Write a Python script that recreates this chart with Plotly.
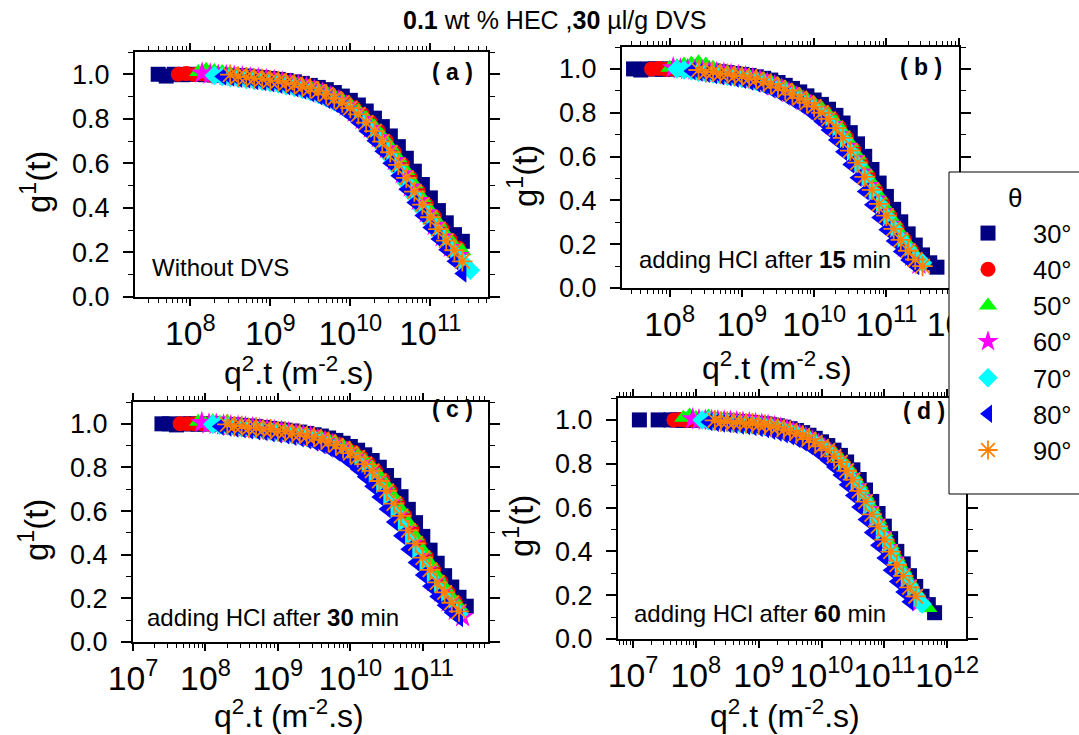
import plotly.graph_objects as go

# ---------------- data ----------------
# q^2.t grids (m^-2.s), 0.1-decade steps; the second grid is offset by half a step
q2t_grid = [
    1.00e7, 1.26e7, 1.58e7, 2.00e7, 2.51e7, 3.16e7, 3.98e7, 5.01e7, 6.31e7, 7.94e7,
    1.00e8, 1.26e8, 1.58e8, 2.00e8, 2.51e8, 3.16e8, 3.98e8, 5.01e8, 6.31e8, 7.94e8,
    1.00e9, 1.26e9, 1.58e9, 2.00e9, 2.51e9, 3.16e9, 3.98e9, 5.01e9, 6.31e9, 7.94e9,
    1.00e10, 1.26e10, 1.58e10, 2.00e10, 2.51e10, 3.16e10, 3.98e10, 5.01e10, 6.31e10, 7.94e10,
    1.00e11, 1.26e11, 1.58e11, 2.00e11, 2.51e11, 3.16e11, 3.98e11, 5.01e11, 6.31e11, 7.94e11,
    1.00e12,
]
q2t_grid_half = [
    8.91e6, 1.12e7, 1.41e7, 1.78e7, 2.24e7, 2.82e7, 3.55e7, 4.47e7, 5.62e7, 7.08e7,
    8.91e7, 1.12e8, 1.41e8, 1.78e8, 2.24e8, 2.82e8, 3.55e8, 4.47e8, 5.62e8, 7.08e8,
    8.91e8, 1.12e9, 1.41e9, 1.78e9, 2.24e9, 2.82e9, 3.55e9, 4.47e9, 5.62e9, 7.08e9,
    8.91e9, 1.12e10, 1.41e10, 1.78e10, 2.24e10, 2.82e10, 3.55e10, 4.47e10, 5.62e10, 7.08e10,
    8.91e10, 1.12e11, 1.41e11, 1.78e11, 2.24e11, 2.82e11, 3.55e11, 4.47e11, 5.62e11, 7.08e11,
    8.91e11,
]

angles = ["30°", "40°", "50°", "60°", "70°", "80°", "90°"]
colors = ["#000080", "#FF0000", "#00FF00", "#FF00FF", "#00FFFF", "#0000FF", "#FF8000"]
symbols = ["square", "circle", "triangle-up", "star", "diamond", "triangle-left", "asterisk-open"]
sizes = [15, 15, 16, 17, 15, 16, 17]
use_half_grid = [False, True, False, True, False, False, False]

# first grid index of each angle's data, per panel
start_a = [6, 9, 11, 12, 13, 14, 15]
start_b = [5, 8, 10, 11, 11, 13, 14]
start_c = [4, 7, 9, 10, 11, 12, 13]
start_d = [1, 7, 8, 10, 11, 12, 13]

# ---- panel (a): without DVS ----
g_a_30 = [1.000, 0.992, 1.000, 0.998, 1.000, 0.999, 0.998, 0.997, 0.996, 0.995, 0.994, 0.992, 0.988, 0.985,
          0.981, 0.977, 0.972, 0.966, 0.959, 0.950, 0.941, 0.931, 0.918, 0.902, 0.883, 0.862, 0.835, 0.803,
          0.765, 0.723, 0.675, 0.623, 0.565, 0.505, 0.445, 0.388, 0.333, 0.280, 0.250]
g_a_40 = [1.000, 1.003, 0.999, 1.002, 0.997, 0.998, 0.995, 0.993, 0.990, 0.987, 0.983, 0.979, 0.975, 0.970,
          0.963, 0.955, 0.946, 0.937, 0.925, 0.910, 0.893, 0.873, 0.850, 0.820, 0.785, 0.745, 0.700, 0.650,
          0.595, 0.535, 0.475, 0.415, 0.360, 0.305, 0.255, 0.220]
g_a_50 = [1.010, 1.020, 1.015, 1.010, 1.005, 0.998, 0.993, 0.988, 0.984, 0.979, 0.975, 0.968, 0.961, 0.952,
          0.943, 0.932, 0.918, 0.902, 0.884, 0.862, 0.836, 0.803, 0.766, 0.723, 0.676, 0.623, 0.566, 0.506,
          0.445, 0.388, 0.333, 0.280, 0.232, 0.205]
g_a_60 = [1.005, 1.000, 0.996, 0.994, 0.991, 0.988, 0.984, 0.980, 0.976, 0.971, 0.965, 0.957, 0.949, 0.940,
          0.929, 0.915, 0.898, 0.879, 0.857, 0.829, 0.796, 0.757, 0.714, 0.665, 0.612, 0.553, 0.493, 0.433,
          0.377, 0.321, 0.270, 0.223, 0.185]
g_a_70 = [0.995, 0.990, 0.985, 0.981, 0.977, 0.972, 0.967, 0.962, 0.956, 0.949, 0.941, 0.932, 0.921, 0.909,
          0.894, 0.877, 0.856, 0.832, 0.802, 0.766, 0.725, 0.679, 0.628, 0.572, 0.512, 0.452, 0.394, 0.340,
          0.287, 0.239, 0.196, 0.157, 0.120]
g_a_80 = [0.990, 0.986, 0.980, 0.976, 0.970, 0.965, 0.960, 0.953, 0.946, 0.937, 0.927, 0.915, 0.901, 0.885,
          0.866, 0.843, 0.816, 0.783, 0.745, 0.702, 0.654, 0.601, 0.544, 0.484, 0.424, 0.366, 0.312, 0.260,
          0.212, 0.160, 0.105]
g_a_90 = [0.998, 0.990, 0.987, 0.981, 0.979, 0.973, 0.970, 0.961, 0.955, 0.944, 0.937, 0.923, 0.910, 0.891,
          0.873, 0.848, 0.820, 0.783, 0.745, 0.698, 0.650, 0.593, 0.535, 0.473, 0.415, 0.358, 0.305, 0.253,
          0.210, 0.160]

# ---- panel (b): HCl after 15 min ----
g_b_30 = [1.000, 0.995, 1.000, 1.000, 0.998, 1.000, 1.000, 0.999, 0.998, 0.996, 0.994, 0.991, 0.987, 0.983,
          0.979, 0.975, 0.970, 0.964, 0.957, 0.949, 0.938, 0.925, 0.911, 0.895, 0.877, 0.858, 0.838, 0.816,
          0.788, 0.753, 0.709, 0.658, 0.601, 0.541, 0.479, 0.418, 0.359, 0.302, 0.247, 0.196, 0.151, 0.115,
          0.095]
g_b_40 = [1.000, 1.002, 0.998, 1.000, 0.999, 0.997, 0.995, 0.992, 0.989, 0.985, 0.981, 0.977, 0.972, 0.967,
          0.961, 0.953, 0.944, 0.932, 0.918, 0.903, 0.886, 0.867, 0.848, 0.828, 0.803, 0.772, 0.733, 0.685,
          0.630, 0.572, 0.510, 0.448, 0.387, 0.330, 0.273, 0.220, 0.172, 0.130]
g_b_50 = [1.005, 1.012, 1.020, 1.025, 1.030, 1.020, 1.005, 0.990, 0.984, 0.979, 0.974, 0.968, 0.961, 0.953,
          0.943, 0.930, 0.915, 0.899, 0.881, 0.862, 0.842, 0.820, 0.792, 0.757, 0.714, 0.662, 0.605, 0.545,
          0.483, 0.422, 0.363, 0.306, 0.251, 0.200, 0.154, 0.118]
g_b_60 = [1.005, 1.000, 0.997, 0.994, 0.991, 0.987, 0.983, 0.979, 0.974, 0.969, 0.963, 0.956, 0.947, 0.936,
          0.922, 0.908, 0.891, 0.873, 0.854, 0.834, 0.810, 0.781, 0.745, 0.699, 0.646, 0.589, 0.529, 0.467,
          0.405, 0.347, 0.290, 0.236, 0.186, 0.143, 0.108]
g_b_70 = [1.000, 0.995, 0.990, 0.985, 0.981, 0.977, 0.972, 0.967, 0.962, 0.956, 0.950, 0.942, 0.933, 0.921,
          0.907, 0.893, 0.876, 0.858, 0.838, 0.818, 0.792, 0.760, 0.722, 0.675, 0.621, 0.564, 0.503, 0.442,
          0.382, 0.326, 0.271, 0.220, 0.174, 0.135, 0.115]
g_b_80 = [0.990, 0.984, 0.978, 0.972, 0.967, 0.962, 0.956, 0.950, 0.942, 0.933, 0.922, 0.908, 0.893, 0.876,
          0.857, 0.837, 0.815, 0.790, 0.760, 0.721, 0.675, 0.622, 0.564, 0.503, 0.441, 0.380, 0.322, 0.266,
          0.214, 0.167, 0.128, 0.100]
g_b_90 = [0.995, 0.985, 0.987, 0.978, 0.978, 0.969, 0.967, 0.958, 0.953, 0.941, 0.932, 0.915, 0.903, 0.883,
          0.867, 0.845, 0.828, 0.800, 0.772, 0.730, 0.685, 0.627, 0.572, 0.507, 0.448, 0.384, 0.330, 0.270,
          0.220, 0.170, 0.130, 0.100]

# ---- panel (c): HCl after 30 min ----
g_c_30 = [1.000, 1.000, 0.995, 1.000, 1.000, 0.998, 1.000, 1.000, 0.999, 0.997, 0.995, 0.993, 0.990, 0.987,
          0.983, 0.979, 0.975, 0.971, 0.967, 0.962, 0.956, 0.950, 0.944, 0.935, 0.924, 0.911, 0.896, 0.879,
          0.858, 0.832, 0.801, 0.763, 0.718, 0.666, 0.608, 0.547, 0.484, 0.421, 0.361, 0.304, 0.252, 0.205,
          0.164]
g_c_40 = [1.000, 1.000, 1.000, 1.000, 1.000, 0.998, 0.996, 0.994, 0.991, 0.988, 0.985, 0.981, 0.977, 0.973,
          0.969, 0.964, 0.959, 0.953, 0.947, 0.940, 0.930, 0.918, 0.904, 0.888, 0.869, 0.846, 0.818, 0.784,
          0.742, 0.693, 0.638, 0.578, 0.515, 0.452, 0.390, 0.331, 0.276, 0.227, 0.183]
g_c_50 = [1.010, 1.000, 1.012, 1.005, 1.010, 0.998, 0.992, 0.989, 0.985, 0.980, 0.976, 0.972, 0.968, 0.963,
          0.957, 0.951, 0.944, 0.936, 0.925, 0.912, 0.897, 0.879, 0.858, 0.832, 0.801, 0.763, 0.718, 0.666,
          0.608, 0.547, 0.484, 0.421, 0.361, 0.304, 0.252, 0.205, 0.164]
g_c_60 = [1.005, 0.999, 0.997, 0.994, 0.991, 0.988, 0.985, 0.981, 0.977, 0.973, 0.969, 0.964, 0.959, 0.953,
          0.947, 0.940, 0.930, 0.918, 0.904, 0.888, 0.869, 0.846, 0.818, 0.784, 0.742, 0.693, 0.638, 0.578,
          0.515, 0.452, 0.390, 0.331, 0.276, 0.227, 0.183, 0.145, 0.115]
g_c_70 = [0.998, 0.994, 0.990, 0.986, 0.982, 0.979, 0.975, 0.971, 0.966, 0.962, 0.957, 0.951, 0.945, 0.938,
          0.929, 0.918, 0.904, 0.888, 0.869, 0.848, 0.822, 0.791, 0.752, 0.707, 0.655, 0.598, 0.537, 0.474,
          0.412, 0.352, 0.296, 0.246, 0.200, 0.162, 0.130]
g_c_80 = [0.988, 0.983, 0.979, 0.975, 0.971, 0.966, 0.962, 0.957, 0.952, 0.947, 0.941, 0.934, 0.926, 0.916,
          0.903, 0.888, 0.870, 0.848, 0.823, 0.793, 0.757, 0.714, 0.665, 0.610, 0.550, 0.487, 0.425, 0.364,
          0.307, 0.255, 0.208, 0.168, 0.135, 0.110]
g_c_90 = [0.997, 0.989, 0.990, 0.981, 0.983, 0.974, 0.975, 0.966, 0.965, 0.956, 0.954, 0.944, 0.940, 0.927,
          0.918, 0.901, 0.888, 0.866, 0.846, 0.815, 0.784, 0.738, 0.693, 0.634, 0.578, 0.512, 0.452, 0.387,
          0.331, 0.273, 0.227, 0.180, 0.140]

# ---- panel (d): HCl after 60 min ----
g_d_30 = [1.000, None, None, 1.000, None, 1.000, 1.000, 0.998, 1.000, 1.000, 1.000, 0.999, 0.998, 0.997,
          0.995, 0.994, 0.992, 0.990, 0.988, 0.985, 0.982, 0.978, 0.973, 0.967, 0.960, 0.952, 0.942, 0.930,
          0.916, 0.900, 0.883, 0.862, 0.838, 0.808, 0.772, 0.728, 0.680, 0.628, 0.573, 0.515, 0.458, 0.400,
          0.343, 0.289, 0.240, 0.195, 0.157, 0.120]
g_d_40 = [1.000, 1.002, 0.998, 1.000, 1.000, 0.999, 0.998, 0.996, 0.995, 0.993, 0.991, 0.989, 0.987, 0.984,
          0.980, 0.976, 0.971, 0.965, 0.957, 0.949, 0.938, 0.925, 0.911, 0.894, 0.876, 0.855, 0.829, 0.797,
          0.759, 0.715, 0.664, 0.611, 0.555, 0.498, 0.440, 0.383, 0.327, 0.274, 0.226, 0.184]
g_d_50 = [1.010, 1.020, 1.010, 1.005, 1.015, 1.010, 1.005, 0.998, 0.993, 0.991, 0.989, 0.987, 0.984, 0.980,
          0.976, 0.970, 0.964, 0.956, 0.947, 0.936, 0.923, 0.908, 0.892, 0.873, 0.850, 0.823, 0.790, 0.750,
          0.704, 0.654, 0.601, 0.544, 0.487, 0.429, 0.372, 0.316, 0.265, 0.218, 0.176, 0.141]
g_d_60 = [1.005, 1.000, 0.998, 0.997, 0.996, 0.994, 0.993, 0.991, 0.989, 0.986, 0.983, 0.979, 0.975, 0.969,
          0.962, 0.954, 0.945, 0.934, 0.920, 0.905, 0.888, 0.868, 0.845, 0.817, 0.783, 0.741, 0.694, 0.644,
          0.590, 0.532, 0.475, 0.417, 0.360, 0.305, 0.255, 0.209, 0.168]
g_d_70 = [1.000, 0.996, 0.993, 0.990, 0.988, 0.985, 0.983, 0.980, 0.977, 0.974, 0.969, 0.964, 0.958, 0.951,
          0.943, 0.933, 0.921, 0.907, 0.891, 0.874, 0.853, 0.829, 0.799, 0.763, 0.720, 0.673, 0.622, 0.568,
          0.511, 0.455, 0.398, 0.342, 0.289, 0.241, 0.197, 0.160]
g_d_80 = [0.990, 0.987, 0.984, 0.981, 0.978, 0.975, 0.972, 0.968, 0.963, 0.958, 0.951, 0.943, 0.935, 0.925,
          0.913, 0.898, 0.881, 0.862, 0.840, 0.815, 0.785, 0.748, 0.704, 0.655, 0.602, 0.545, 0.486, 0.428,
          0.370, 0.314, 0.262, 0.214, 0.170]
g_d_90 = [0.998, 0.992, 0.993, 0.988, 0.990, 0.984, 0.985, 0.978, 0.978, 0.969, 0.967, 0.956, 0.951, 0.938,
          0.929, 0.912, 0.899, 0.879, 0.861, 0.834, 0.807, 0.768, 0.727, 0.676, 0.627, 0.569, 0.514, 0.454,
          0.399, 0.339, 0.288, 0.236, 0.195]

panel_labels = ["( a )", "( b )", "( c )", "( d )"]
panel_notes = ["Without DVS", "adding HCl after <b>15</b> min",
               "adding HCl after <b>30</b> min", "adding HCl after <b>60</b> min"]
x_ranges = [[7.31, 11.72], [7.34, 12.005], [7.0, 11.9], [6.76, 12.3]]

panels = [
    (start_a, [g_a_30, g_a_40, g_a_50, g_a_60, g_a_70, g_a_80, g_a_90]),
    (start_b, [g_b_30, g_b_40, g_b_50, g_b_60, g_b_70, g_b_80, g_b_90]),
    (start_c, [g_c_30, g_c_40, g_c_50, g_c_60, g_c_70, g_c_80, g_c_90]),
    (start_d, [g_d_30, g_d_40, g_d_50, g_d_60, g_d_70, g_d_80, g_d_90]),
]

# ---------------- layout geometry (pixels in a 1079x735 page) ----------------
W, H = 1079, 735
boxes = [(135, 488, 52, 297), (622, 959, 47, 288), (133, 488, 402, 642), (618, 966, 398, 639)]
xtitle_pos = [(299, 371), (777, 366), (289, 714), (785, 714)]
ytitle_pos = [(36, 182), (523, 176), (34, 530), (519, 526)]

FONT = "Liberation Sans, Arial, sans-serif"
fig = go.Figure()

for p, (starts, series) in enumerate(panels):
    ax = "" if p == 0 else str(p + 1)
    for k, g in enumerate(series):
        s = starts[k]
        grid = q2t_grid_half if use_half_grid[k] else q2t_grid
        x = grid[s:s + len(g)]
        sym = symbols[k]
        if sym == "asterisk-open":
            marker = dict(symbol=sym, size=sizes[k], color=colors[k],
                          line=dict(color=colors[k], width=1.8))
        else:
            marker = dict(symbol=sym, size=sizes[k], color=colors[k], line=dict(width=0))
        fig.add_trace(go.Scatter(
            x=x, y=g, mode="markers", marker=marker, name=angles[k],
            legendgroup=angles[k], showlegend=(p == 0),
            xaxis="x" + ax, yaxis="y" + ax,
        ))

axis_common = dict(
    showline=True, linewidth=2, linecolor="black", mirror="allticks",
    ticks="outside", tickcolor="black", tickwidth=1.5,
    showgrid=False, zeroline=False,
    tickfont=dict(family=FONT, size=27, color="black"),
)

layout = dict(
    width=W, height=H, margin=dict(l=0, r=0, t=0, b=0, autoexpand=False),
    paper_bgcolor="white", plot_bgcolor="white",
    font=dict(family=FONT, color="black"),
    showlegend=True,
    legend=dict(
        x=943 / W, y=1 - 210 / H, xanchor="left", yanchor="top",
        bgcolor="rgba(0,0,0,0)", borderwidth=0,
        font=dict(family=FONT, size=25.5, color="black"),
        itemwidth=80, tracegroupgap=0,
    ),
)

for p, (x0, x1, y0, y1) in enumerate(boxes):
    ax = "" if p == 0 else str(p + 1)
    layout["xaxis" + ax] = dict(
        axis_common, type="log", range=x_ranges[p], domain=[x0 / W, x1 / W],
        anchor="y" + ax, dtick=1, exponentformat="power", ticklen=7, tickangle=0,
        ticklabelstandoff=0,
        minor=dict(ticks="outside", ticklen=4, tickcolor="black", tickwidth=1, dtick="D1"),
    )
    layout["yaxis" + ax] = dict(
        axis_common, range=[0, 1.1], domain=[1 - y1 / H, 1 - y0 / H],
        anchor="x" + ax, dtick=0.2, tickformat=".1f", ticklen=10,
        ticklabelstandoff=8,
        minor=dict(ticks="outside", ticklen=5, tickcolor="black", tickwidth=1, dtick=0.1),
    )

fig.update_layout(**layout)

# legend frame (white box that runs off the right edge)
fig.add_shape(type="rect", xref="paper", yref="paper",
              x0=949 / W, x1=1.05, y0=1 - 494 / H, y1=1 - 172 / H,
              line=dict(color="black", width=1), fillcolor="white", layer="above")


def note(text, px, py, size, xanchor="center", angle=0):
    return dict(text=text, x=px / W, y=1 - py / H, xref="paper", yref="paper",
                xanchor=xanchor, yanchor="middle", textangle=angle, showarrow=False,
                font=dict(family=FONT, size=size, color="black"))


annotations = [
    note("<b>0.1</b> wt % HEC ,<b>30</b> µl/g DVS", 554, 20, 25),
    note("θ", 1015, 198, 26),
]
label_pos = [(453, 72), (921, 67), (453, 409), (924, 411)]
note_pos = [(150, 267), (637, 260), (145, 617), (632, 613)]
for p in range(4):
    lx, ly = label_pos[p]
    annotations.append(note("<b>" + panel_labels[p] + "</b>", lx, ly, 23))
    nx, ny = note_pos[p]
    annotations.append(note(panel_notes[p], nx, ny, 24, xanchor="left"))
    tx, ty = xtitle_pos[p]
    annotations.append(note("q<sup>2</sup>.t (m<sup>-2</sup>.s)", tx, ty, 32))
    gx, gy = ytitle_pos[p]
    annotations.append(note("g<sup>1</sup>(t)", gx, gy, 33, angle=-90))
fig.update_layout(annotations=annotations)

fig.write_html("out.html")
